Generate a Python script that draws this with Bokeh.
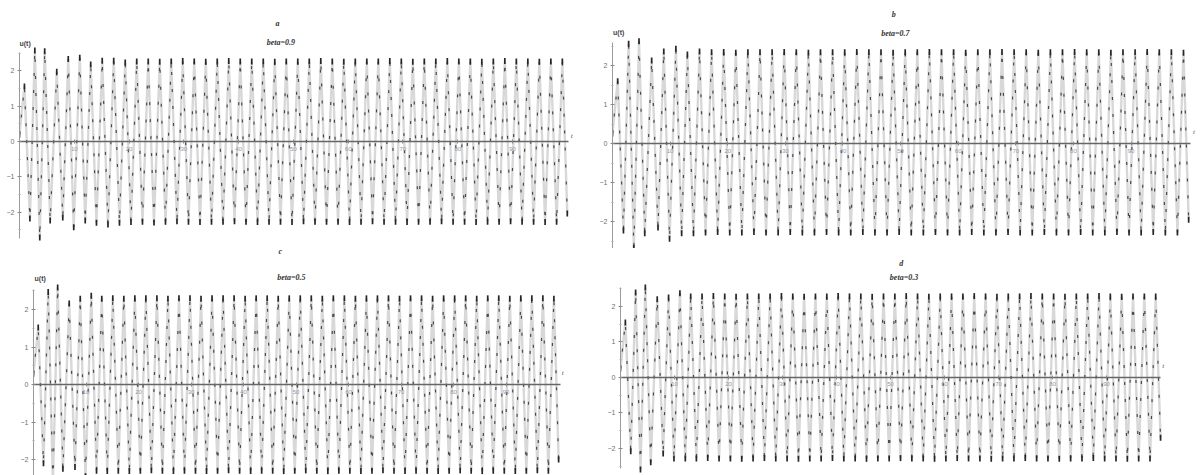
from bokeh.plotting import figure
from bokeh.layouts import column, row
from bokeh.models import LinearAxis, FixedTicker, ColumnDataSource
from bokeh.embed import file_html
from bokeh.resources import INLINE
from bokeh.core.properties import value

# ---- data: times of the extremes (shared) ----
t_ext = [0.0, 0.9, 1.9, 2.8, 3.7, 4.6, 5.6, 6.8, 7.9, 8.9, 9.9, 11.0, 12.0,
         13.0, 14.05, 15.1, 16.15, 17.2, 18.25, 19.3, 20.35, 21.4, 22.45,
         23.5, 24.55, 25.6, 26.65, 27.7, 28.75, 29.8, 30.85, 31.9, 32.95,
         34.0, 35.05, 36.1, 37.15, 38.2, 39.25, 40.3, 41.35, 42.4, 43.45,
         44.5, 45.55, 46.6, 47.65, 48.7, 49.75, 50.8, 51.85, 52.9, 53.95,
         55.0, 56.05, 57.1, 58.15, 59.2, 60.25, 61.3, 62.35, 63.4, 64.45,
         65.5, 66.55, 67.6, 68.65, 69.7, 70.75, 71.8, 72.85, 73.9, 74.95,
         76.0, 77.05, 78.1, 79.15, 80.2, 81.25, 82.3, 83.35, 84.4, 85.45,
         86.5, 87.55, 88.6, 89.65, 90.7, 91.75, 92.8, 93.85, 94.9, 95.95,
         97.0, 98.05, 99.1, 100.0]

u_a = [0.20, 1.56, -2.18, 2.58, -2.72, 2.56, -2.24, 1.98, -2.15, 2.34,
       -2.43, 2.37, -2.24, 2.18, -2.30, 2.29, -2.35, 2.29, -2.30, 2.24,
       -2.28, 2.27, -2.27, 2.27, -2.29, 2.26, -2.27, 2.27, -2.26, 2.28,
       -2.27, 2.27, -2.28, 2.26, -2.27, 2.27, -2.27, 2.28, -2.26, 2.27,
       -2.27, 2.27, -2.28, 2.27, -2.27, 2.26, -2.27, 2.27, -2.28, 2.27,
       -2.26, 2.27, -2.27, 2.28, -2.27, 2.27, -2.27, 2.26, -2.28, 2.27,
       -2.27, 2.27, -2.26, 2.27, -2.27, 2.28, -2.27, 2.27, -2.28, 2.26,
       -2.27, 2.27, -2.27, 2.27, -2.26, 2.28, -2.27, 2.27, -2.27, 2.27,
       -2.28, 2.26, -2.27, 2.27, -2.27, 2.28, -2.26, 2.27, -2.27, 2.27,
       -2.27, 2.26, -2.28, 2.27, -2.27, 2.27, -2.04]

u_b = [0.26, 1.60, -2.23, 2.56, -2.67, 2.62, -2.30, 2.13, -2.15, 2.36,
       -2.44, 2.43, -2.30, 2.28, -2.30, 2.36,
       -2.28, 2.34, -2.27, 2.35, -2.28, 2.33, -2.28, 2.34, -2.27, 2.34,
       -2.28, 2.34, -2.28, 2.35, -2.27, 2.34, -2.28, 2.33, -2.28, 2.34,
       -2.27, 2.34, -2.28, 2.34, -2.28, 2.35, -2.27, 2.34, -2.28, 2.34,
       -2.28, 2.33, -2.27, 2.34, -2.28, 2.34, -2.28, 2.35, -2.27, 2.34,
       -2.28, 2.34, -2.28, 2.33, -2.27, 2.34, -2.28, 2.34, -2.28, 2.35,
       -2.27, 2.34, -2.28, 2.34, -2.28, 2.33, -2.27, 2.34, -2.28, 2.34,
       -2.28, 2.35, -2.27, 2.34, -2.28, 2.34, -2.28, 2.33, -2.27, 2.34,
       -2.28, 2.34, -2.28, 2.35, -2.27, 2.34, -2.28, 2.34, -2.28, 2.33,
       -1.95]

u_c = [0.29, 1.52, -2.10, 2.47, -2.65, 2.59, -2.25, 2.16, -2.20, 2.29,
       -2.45, 2.37, -2.30, 2.29,
       -2.31, 2.30, -2.30, 2.29, -2.31, 2.30, -2.30, 2.30, -2.29, 2.30,
       -2.30, 2.29, -2.31, 2.30, -2.30, 2.30, -2.30, 2.29, -2.31, 2.30,
       -2.30, 2.30, -2.29, 2.30, -2.30, 2.29, -2.31, 2.30, -2.30, 2.30,
       -2.30, 2.29, -2.31, 2.30, -2.30, 2.30, -2.29, 2.30, -2.30, 2.29,
       -2.31, 2.30, -2.30, 2.30, -2.30, 2.29, -2.31, 2.30, -2.30, 2.30,
       -2.29, 2.30, -2.30, 2.29, -2.31, 2.30, -2.30, 2.30, -2.30, 2.29,
       -2.31, 2.30, -2.30, 2.30, -2.29, 2.30, -2.30, 2.29, -2.31, 2.30,
       -2.30, 2.30, -2.30, 2.29, -2.31, 2.30, -2.30, 2.30, -2.29, 2.30,
       -2.30, 2.29, -2.00]

u_d = [0.25, 1.55, -2.08, 2.39, -2.59, 2.53, -2.39, 2.20, -2.14, 2.25,
       -2.28, 2.37, -2.28, 2.28,
       -2.28, 2.28, -2.27, 2.29, -2.28, 2.28, -2.28, 2.27, -2.29, 2.28,
       -2.28, 2.28, -2.27, 2.28, -2.28, 2.29, -2.28, 2.28, -2.29, 2.27,
       -2.28, 2.28, -2.28, 2.28, -2.27, 2.29, -2.28, 2.28, -2.28, 2.28,
       -2.29, 2.27, -2.28, 2.28, -2.28, 2.28, -2.27, 2.29, -2.28, 2.28,
       -2.28, 2.27, -2.29, 2.28, -2.28, 2.28, -2.27, 2.28, -2.28, 2.29,
       -2.28, 2.28, -2.29, 2.27, -2.28, 2.28, -2.28, 2.28, -2.27, 2.29,
       -2.28, 2.28, -2.28, 2.28, -2.29, 2.27, -2.28, 2.28, -2.28, 2.28,
       -2.27, 2.29, -2.28, 2.28, -2.28, 2.27, -2.29, 2.28, -2.28, 2.28,
       -2.28, 2.28, -1.70]

x_ticks = [10, 20, 30, 40, 50, 60, 70, 80, 90]
y_ticks = [-2, -1, 0, 1, 2]
y_minor = [-2.5, -1.5, -0.5, 0.5, 1.5, 2.5]
letters = ["a", "b", "c", "d"]
betas = ["beta=0.9", "beta=0.7", "beta=0.5", "beta=0.3"]

for u in (u_a, u_b, u_c, u_d):
    assert len(u) == len(t_ext)

SERIF = value("Liberation Serif")


def panel(u, letter, beta, w, h, bl, br, xr, yr, ybounds, xbound,
          letter_pos, beta_pos, ut_pos, t_pos):
    p = figure(width=w, height=h, x_range=xr, y_range=yr,
               x_axis_location=None, y_axis_location="left",
               toolbar_location=None, output_backend="svg",
               min_border_left=bl, min_border_right=br,
               min_border_top=0, min_border_bottom=0)
    p.outline_line_color = None
    p.grid.visible = False
    p.background_fill_color = "white"
    p.border_fill_color = "white"

    ya = p.yaxis[0]
    ya.ticker = FixedTicker(ticks=y_ticks, minor_ticks=y_minor)
    ya.bounds = ybounds
    ya.axis_line_color = "#9a9a9a"
    ya.major_tick_line_color = "#8a8a8a"
    ya.minor_tick_line_color = "#aaaaaa"
    ya.major_tick_in = 2
    ya.major_tick_out = 2
    ya.minor_tick_in = 1
    ya.minor_tick_out = 1
    ya.major_label_standoff = 3
    ya.major_label_text_font_size = "7px"
    ya.major_label_text_color = "#6f6f6f"

    xa = LinearAxis(fixed_location=0, ticker=FixedTicker(ticks=x_ticks),
                    bounds=(0, xbound))
    xa.axis_line_color = "#666666"
    xa.axis_line_width = 1.3
    xa.major_tick_line_color = "#888888"
    xa.major_tick_in = 2
    xa.major_tick_out = 2
    xa.minor_tick_line_color = None
    xa.major_label_standoff = 3
    xa.major_label_text_font_size = "6px"
    xa.major_label_text_color = "#8c98a8"
    p.add_layout(xa, "below")

    src = ColumnDataSource(dict(t=t_ext, u=u))
    p.line("t", "u", source=src, line_color="#d8d8d8", line_width=2.4)
    p.line("t", "u", source=src, line_color="#4a4a4a", line_width=1.2,
           line_dash="3 14")
    p.scatter("t", "u", source=src, marker="dash", angle=1.5708, size=6,
              line_color="#262626", line_width=1.7)

    p.text(x=[letter_pos[0]], y=[letter_pos[1]], text=[letter],
           text_font=SERIF, text_font_style="bold italic",
           text_font_size="8px", text_align="center",
           text_baseline="middle", text_color="#333333")
    p.text(x=[beta_pos[0]], y=[beta_pos[1]], text=[beta],
           text_font=SERIF, text_font_style="bold italic",
           text_font_size="8px", text_align="center",
           text_baseline="middle", text_color="#333333")
    if ut_pos is not None:
        p.text(x=[ut_pos[0]], y=[ut_pos[1]], text=["u(t)"],
               text_font=value("Liberation Sans"), text_font_style="bold",
               text_font_size="7px", text_align="left",
               text_baseline="middle", text_color="#444444")
    p.text(x=[t_pos[0]], y=[t_pos[1]], text=["t"],
           text_font=SERIF, text_font_style="italic",
           text_font_size="7px", text_align="center",
           text_baseline="middle", text_color="#555555")
    return p


pa = panel(u_a, letters[0], betas[0], 590, 248, 19, 15, (0, 101.5), (-3.03, 3.995),
           (-2.75, 2.52), 100.3, (47.1, 3.34), (47.7, 2.80), (0.0, 2.78),
           (100.8, 0.17))
pb = panel(u_b, letters[1], betas[1], 612, 248, 22, 0, (0, 102.4), (-2.69, 3.667),
           (-2.70, 2.60), 100.3, (48.8, 3.31), (49.1, 2.82), (0.1, 2.85),
           (100.9, 0.30))
pc = panel(u_c, letters[2], betas[2], 590, 227, 33, 24, (0, 101.5), (-2.427, 3.63),
           (-2.60, 2.53), 100.4, (47.0, 3.55), (49.1, 2.85), (0.2, 2.83),
           (100.8, 0.32))
pd = panel(u_d, letters[3], betas[3], 612, 227, 30, 36, (0, 101.1), (-2.76, 3.63),
           (-2.56, 2.53), 100.0, (52.0, 3.22), (52.5, 2.82), None,
           (100.5, 0.31))

layout = column(row(pa, pb), row(pc, pd))
open("out.html", "w").write(file_html(layout, INLINE))
